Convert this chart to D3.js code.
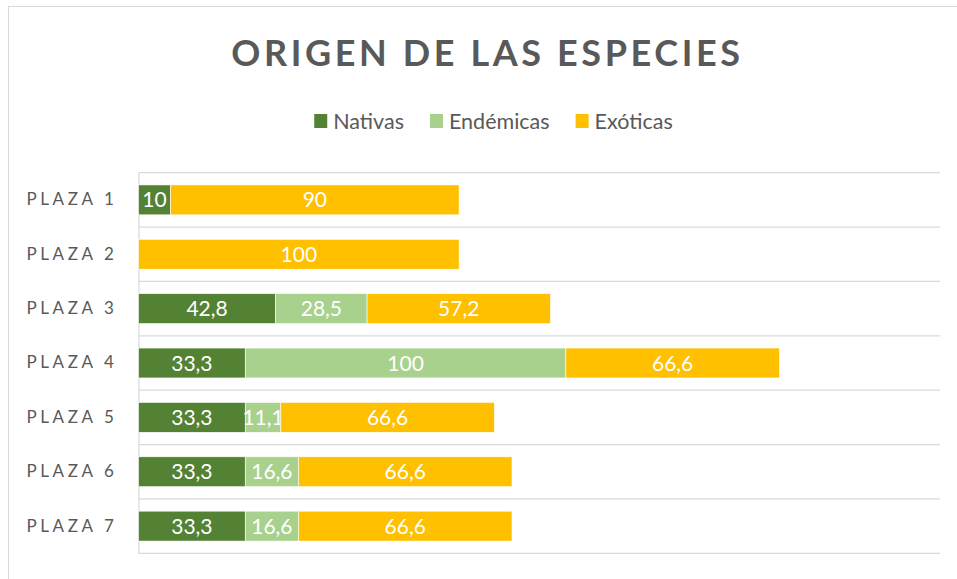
<!DOCTYPE html>
<html>
<head>
<meta charset="utf-8">
<script src="https://cdn.jsdelivr.net/npm/d3@7"></script>
<style>
  body { margin: 0; background: #fff; }
  svg { display: block; font-family: Lato, "Noto Sans", sans-serif; }
</style>
</head>
<body>
<svg id="chart" width="957" height="579"></svg>
<script>
const categories = ['PLAZA 1', 'PLAZA 2', 'PLAZA 3', 'PLAZA 4', 'PLAZA 5', 'PLAZA 6', 'PLAZA 7']
const seriesNames = ['Nativas', 'Endémicas', 'Exóticas']
const nativas = [10, 0, 42.8, 33.3, 33.3, 33.3, 33.3]
const endemicas = [0, 0, 28.5, 100, 11.1, 16.6, 16.6]
const exoticas = [90, 100, 57.2, 66.6, 66.6, 66.6, 66.6]
const colors = ['#548235', '#A9D18E', '#FFC000']
const xMax = 250

const svg = d3.select('#chart')
const margin = { top: 172.7, left: 138.5, right: 17, bottom: 25.7 }
const width = 957 - margin.left - margin.right
const height = 579 - margin.top - margin.bottom

// Chart border
svg.append('rect')
  .attr('x', 8.5).attr('y', 6.5)
  .attr('width', 1000).attr('height', 1000)
  .attr('fill', 'none')
  .attr('stroke', '#d9d9d9')

// Title
svg.append('text')
  .attr('x', 487.5).attr('y', 66)
  .attr('text-anchor', 'middle')
  .attr('fill', '#595959')
  .style('font-size', '36px')
  .style('font-weight', 'bold')
  .style('letter-spacing', '3.6px')
  .text('ORIGEN DE LAS ESPECIES')

// Table for the stack
const table = categories.map((c, i) => ({
  cat: c, 'Nativas': nativas[i], 'Endémicas': endemicas[i], 'Exóticas': exoticas[i]
}))
const stacked = d3.stack().keys(seriesNames)(table)

const x = d3.scaleLinear().domain([0, xMax]).range([0, width])
const y = d3.scaleBand().domain(categories).range([0, height])
  .paddingInner(0.45).paddingOuter(0.225)

const g = svg.append('g')
  .attr('transform', `translate(${margin.left},${margin.top})`)

// Horizontal gridlines at category boundaries
g.selectAll('line.grid')
  .data(d3.range(categories.length + 1))
  .enter().append('line')
  .attr('class', 'grid')
  .attr('x1', 0).attr('x2', width)
  .attr('y1', d => d * y.step()).attr('y2', d => d * y.step())
  .attr('stroke', '#d9d9d9')
  .attr('stroke-width', 1.2)

// Category axis
const yAxis = g.append('g')
  .call(d3.axisLeft(y).tickSize(0).tickPadding(21))
yAxis.select('.domain').attr('stroke', '#d9d9d9').attr('stroke-width', 1.2)
yAxis.selectAll('text')
  .attr('fill', '#595959')
  .style('font-size', '17px')
  .style('letter-spacing', '3.6px')
  .style('font-family', 'Lato, "Noto Sans", sans-serif')

// Bars
const layers = g.selectAll('g.layer')
  .data(stacked)
  .enter().append('g')
  .attr('class', 'layer')
  .attr('fill', (d, i) => colors[i])

layers.selectAll('rect')
  .data(d => d.filter(s => s.data[d.key] > 0))
  .enter().append('rect')
  .attr('x', d => x(d[0]))
  .attr('y', d => y(d.data.cat))
  .attr('width', d => x(d[1]) - x(d[0]))
  .attr('height', y.bandwidth())
  .attr('stroke', '#fff')
  .attr('stroke-width', 0.6)

// Data labels, taken from the source values
layers.selectAll('text')
  .data(d => d.filter(s => s.data[d.key] > 0).map(s => ({ s: s, v: s.data[d.key] })))
  .enter().append('text')
  .attr('x', d => x((d.s[0] + d.s[1]) / 2))
  .attr('y', d => y(d.s.data.cat) + y.bandwidth() / 2)
  .attr('dy', '0.36em')
  .attr('text-anchor', 'middle')
  .attr('fill', '#fff')
  .style('font-size', '21px')
  .text(d => String(d.v).replace('.', ','))

// Legend
const legend = svg.append('g')
const items = legend.selectAll('g.item')
  .data(seriesNames)
  .enter().append('g')
  .attr('class', 'item')
let offset = 0
items.each(function (d, i) {
  const item = d3.select(this)
  item.append('rect')
    .attr('x', 0).attr('y', -7)
    .attr('width', 13).attr('height', 14)
    .attr('fill', colors[i])
  const t = item.append('text')
    .attr('x', 19).attr('y', 0)
    .attr('dy', '0.35em')
    .attr('fill', '#595959')
    .style('font-size', '21.5px')
    .text(d)
  item.attr('transform', `translate(${offset},0)`)
  offset += 19 + t.node().getComputedTextLength() + 26
})
const legendWidth = offset - 26
legend.attr('transform', `translate(${493.5 - legendWidth / 2},121)`)
</script>
</body>
</html>
